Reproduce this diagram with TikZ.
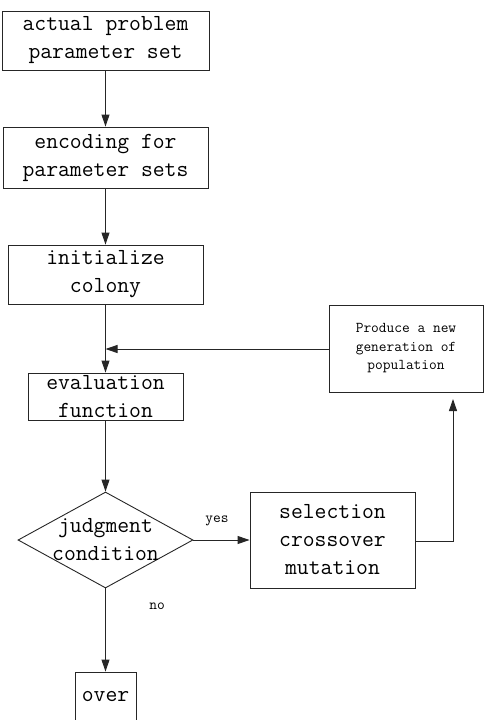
\documentclass[tikz,border=0pt]{standalone}
\usepackage{fontspec}
\usetikzlibrary{shapes.geometric,arrows.meta}
\begin{document}
\begin{tikzpicture}[x=1pt,y=-1pt,
  line/.style={draw=black!85,line width=0.9pt},
  arr/.style={line,-{Triangle[length=12pt,width=8pt]}},
  stepbox/.style={line,rectangle,inner sep=0pt,align=center,
    font=\ttfamily\fontsize{23}{28}\selectfont},
  smallbox/.style={line,rectangle,inner sep=0pt,align=center,
    font=\ttfamily\fontsize{15}{18.5}\selectfont},
  decision/.style={line,diamond,inner sep=0pt},
  lbl/.style={inner sep=0pt,font=\ttfamily\fontsize{15}{18}\selectfont},
  txt/.style={inner sep=0pt,align=center,font=\ttfamily\fontsize{23}{28}\selectfont}]
\useasboundingbox (0,0) rectangle (484,720);
\node[stepbox,minimum width=207pt,minimum height=59pt] (b1) at (105.5,40.5) {actual problem\\parameter set};
\node[stepbox,minimum width=205pt,minimum height=61pt] (b2) at (105.5,157.5) {encoding for\\parameter sets};
\node[stepbox,minimum width=195pt,minimum height=59pt] (b3) at (105.5,274.5) {initialize\\colony};
\node[stepbox,minimum width=155pt,minimum height=47pt] (ev) at (105.5,396.5) {evaluation\\function};
\node[decision,minimum width=175pt,minimum height=96pt] (dc) at (105.5,540) {};
\node[txt] (dct) at (105.5,540) {judgment\\condition};
\node[stepbox,minimum width=165pt,minimum height=96pt] (sel) at (332.5,540) {selection\\crossover\\mutation};
\node[smallbox,minimum width=154pt,minimum height=87pt] (pr) at (406,348.5) {Produce a new\\generation of\\population};
\node[stepbox,minimum width=61pt,minimum height=50pt] (ov) at (105.5,697) {over};
\coordinate (j) at (105.5,349);
\coordinate (c1) at (453,541);
\coordinate (pt) at (453,399);
\draw[arr] (b1.south) -- (b2.north);
\draw[arr] (b2.south) -- (b3.north);
\draw[arr] (b3.south) -- (ev.north);
\draw[arr] (pr.west |- j) -- (j);
\draw[arr] (ev.south) -- (dc.north);
\draw[arr] (dc.east) -- (sel.west) node[lbl,pos=0.42,above=14pt] (yes) {yes};
\draw[arr] (dc.south) -- (ov.north);
\node[lbl] (no) at (157,606) {no};
\draw[arr] (sel.east |- c1) -- (c1) -- (pt);
\end{tikzpicture}
\end{document}
